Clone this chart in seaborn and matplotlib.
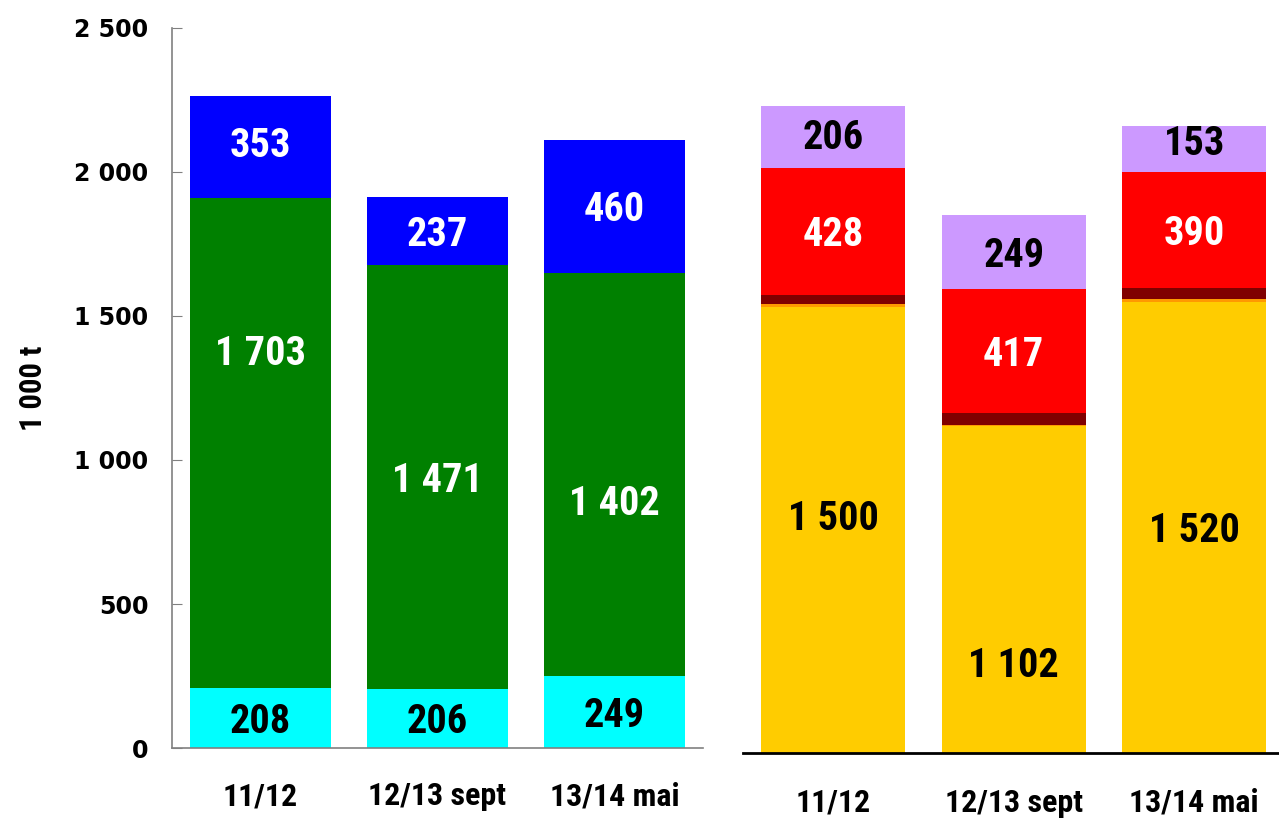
import matplotlib
matplotlib.use("Agg")
import matplotlib.pyplot as plt
import seaborn as sns
import numpy as np

# Campagnes
campagnes = ["11/12", "12/13 sept", "13/14 mai"]

# Panneau gauche (1 000 t)
cyan_vals = [208, 206, 249]
vert_vals = [1703, 1471, 1402]
bleu_vals = [353, 237, 460]

# Panneau droit (1 000 t)
jaune_vals = [1500, 1102, 1520]
orange_vals = [13, 3, 10]
bordeaux_vals = [30, 40, 37]
rouge_vals = [428, 417, 390]
lilas_vals = [206, 249, 153]

sns.set_style("white")
plt.rcParams["font.family"] = ["Roboto Condensed", "Liberation Sans", "DejaVu Sans"]
plt.rcParams["font.weight"] = "bold"
plt.rcParams["text.color"] = "black"
plt.rcParams["xtick.color"] = "black"
plt.rcParams["ytick.color"] = "black"


def fmt(v):
    return f"{v:,}".replace(",", " ")


def empiler(ax, couches, couleurs, couleurs_txt, deplacements):
    cumul = np.cumsum(couches, axis=0)
    # on dessine du haut vers le bas pour obtenir l'empilement
    for i in range(len(couches) - 1, -1, -1):
        sns.barplot(x=campagnes, y=cumul[i], color=couleurs[i], saturation=1,
                    width=0.8, linewidth=0, errorbar=None, ax=ax)
    for i, vals in enumerate(couches):
        if couleurs_txt[i] is None:
            continue
        for j, v in enumerate(vals):
            y = cumul[i][j] - v / 2
            y = deplacements.get((i, j), y)
            ax.text(j, y, fmt(v), ha="center", va="center_baseline", fontsize=29,
                    fontweight="bold", color=couleurs_txt[i])


fig = plt.figure(figsize=(12.79, 8.19), dpi=100)
ax1 = fig.add_axes([172 / 1279, 71 / 819, 531 / 1279, 720 / 819])
ax2 = fig.add_axes([743 / 1279, 66 / 819, 536 / 1279, 742.5 / 819])

empiler(ax1, [cyan_vals, vert_vals, bleu_vals],
        ["#00FFFF", "#008000", "#0000FF"],
        ["black", "white", "white"],
        {(1, 0): 1382, (1, 2): 861, (2, 0): 2105})

empiler(ax2, [jaune_vals, orange_vals, bordeaux_vals, rouge_vals, lilas_vals],
        ["#FFCC00", "#FF9900", "#800000", "#FF0000", "#CC99FF"],
        ["black", None, None, "white", "black"],
        {(0, 0): 801, (0, 1): 306, (4, 0): 2084, (4, 2): 2064})

# Axe gauche
ax1.set_xlim(-0.5, 2.5)
ax1.set_ylim(0, 2500)
ax1.set_yticks(range(0, 2501, 500))
ax1.set_yticklabels([fmt(v) for v in range(0, 2501, 500)],
                    fontfamily="DejaVu Sans", fontweight="bold", fontsize=17)
ax1.tick_params(axis="y", direction="in", length=7, color="#808080", pad=17, left=True)
ax1.tick_params(axis="x", length=0, pad=24, labelsize=23)
for s in ["top", "right"]:
    ax1.spines[s].set_visible(False)
for s in ["left", "bottom"]:
    ax1.spines[s].set_color("#808080")
    ax1.spines[s].set_linewidth(1.2)
ax1.set_xlabel("")
ax1.set_ylabel("")

# Axe droit
ax2.set_xlim(-0.5, 2.47)
ax2.set_ylim(0, 2500)
ax2.set_yticks([])
ax2.tick_params(axis="x", length=0, pad=25, labelsize=23)
for s in ["top", "right", "left"]:
    ax2.spines[s].set_visible(False)
ax2.spines["bottom"].set_color("black")
ax2.spines["bottom"].set_linewidth(2)
ax2.set_xlabel("")
ax2.set_ylabel("")

for ax in (ax1, ax2):
    for lab in ax.get_xticklabels():
        lab.set_fontweight("bold")

fig.text(33 / 1279, 1 - 388 / 819, "1 000 t", rotation=90, ha="center", va="center",
         fontsize=22, fontweight="bold")

fig.savefig("out.png", dpi=100)
